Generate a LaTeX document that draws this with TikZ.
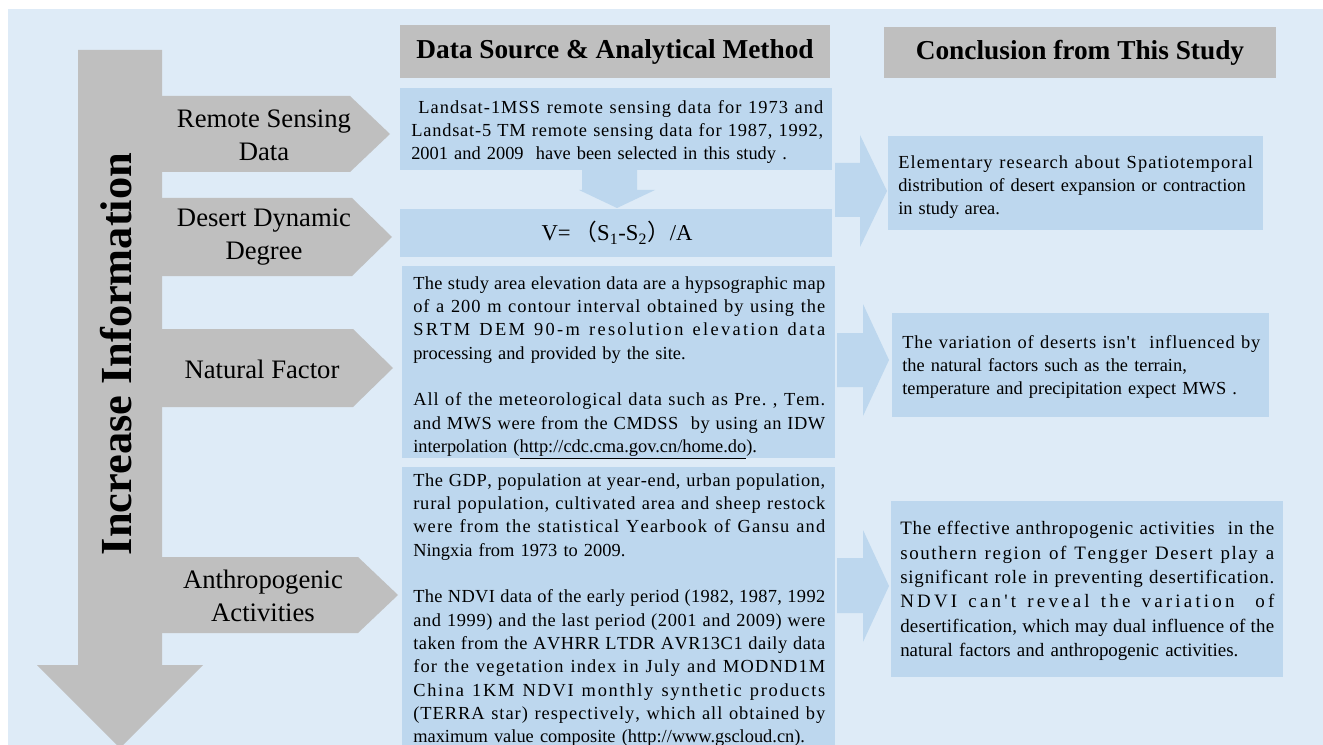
\documentclass[tikz,border=0pt]{standalone}
\usepackage{fontspec}
\setmainfont{Liberation Serif}
\newfontfamily\cjk{Noto Sans CJK SC}
\definecolor{bgblue}{HTML}{DEEBF7}
\definecolor{boxgray}{HTML}{BFBFBF}
\definecolor{boxblue}{HTML}{BDD7EE}
% one justified line of a box text, spread over every character
\ExplSyntaxOn
\cs_new_protected:Npn \ds_word:n #1 { \tl_map_inline:nn {#1} { ##1 \hskip 0pt plus 1pt } }
\NewDocumentCommand \jl { O{309pt} m }
  {
    \leavevmode
    \hbox to #1
      {
        \seq_set_split:Nnn \l_tmpa_seq { ~ } {#2}
        \seq_map_inline:Nn \l_tmpa_seq
          { \ds_word:n {##1} \hskip \fontdimen2\font plus 1pt minus \fontdimen4\font }
        \unskip \unskip
      }
    \\
  }
\ExplSyntaxOff

\begin{document}
\begin{tikzpicture}[x=0.75pt,y=0.75pt,yscale=-1,xscale=1,
	body/.style={anchor=north west,inner sep=0pt,align=left,font=\fontsize{13.8}{17.5}\selectfont},
	lbl/.style={align=center,inner sep=0pt,font=\fontsize{20}{24.5}\selectfont},
	hdr/.style={inner sep=0pt,font=\bfseries\fontsize{20.5}{24}\selectfont}]
			\useasboundingbox (0,0) rectangle (1323,745);

			%Shape: Background
			\fill [white] (0,0) rectangle (1323,745);
			\fill [bgblue] (8,9) rectangle (1323,745);

			%Shape: Down Arrow [increase]
			\fill [boxgray] (78,50) -- (162,50) -- (162,665) -- (203,665) -- (120,748) -- (37,665) -- (78,665) -- cycle ;
			%Shape: Pentagon [remote sensing]
			\fill [boxgray] (160,96) -- (350,96) -- (390,134) -- (350,172) -- (160,172) -- cycle ;
			%Shape: Pentagon [desert dynamic]
			\fill [boxgray] (160,198) -- (352,198) -- (392,237) -- (352,276) -- (160,276) -- cycle ;
			%Shape: Pentagon [natural factor]
			\fill [boxgray] (160,329) -- (353,329) -- (393,368) -- (353,407) -- (160,407) -- cycle ;
			%Shape: Pentagon [anthropogenic]
			\fill [boxgray] (160,557) -- (358,557) -- (398,595) -- (358,633) -- (160,633) -- cycle ;

			%Shape: Rectangle [headers]
			\fill [boxgray] (400,25) rectangle (830,78);
			\fill [boxgray] (884,27) rectangle (1276,78);

			%Shape: Rectangle [data boxes]
			\fill [boxblue] (400,88) rectangle (832,170);
			\fill [boxblue] (400,209) rectangle (832,257);
			\fill [boxblue] (402,266) rectangle (835,458);
			\fill [boxblue] (402,467) rectangle (835,748);
			%Shape: Down Arrow [to formula]
			\fill [boxblue] (582,170) -- (637,170) -- (637,190) -- (655,190) -- (617,208) -- (579,190) -- (582,190) -- cycle ;

			%Shape: Right Arrows [to conclusions]
			\fill [boxblue] (835,163) -- (860,163) -- (860,135) -- (887,191) -- (860,247) -- (860,217) -- (835,217) -- cycle ;
			\fill [boxblue] (837,333) -- (863,333) -- (863,304) -- (889,360) -- (863,416) -- (863,387) -- (837,387) -- cycle ;
			\fill [boxblue] (837,558) -- (863,558) -- (863,530) -- (889,586) -- (863,642) -- (863,613) -- (837,613) -- cycle ;

			%Shape: Rectangle [conclusion boxes]
			\fill [boxblue] (888,136) rectangle (1263,230);
			\fill [boxblue] (892,313) rectangle (1269,417);
			\fill [boxblue] (891,501) rectangle (1283,677);

			% Text Node
			\node (incr) [rotate=90,inner sep=0pt,font=\bfseries\fontsize{33.3}{33}\selectfont] at (116,354) {Increase Information};
			% Text Node
			\node (rsd) [lbl] at (264,135) {Remote Sensing\\Data};
			% Text Node
			\node (ddd) [lbl] at (264,237) {Desert Dynamic\\Degree};
			% Text Node
			\node (nat) [lbl] at (262,369) {Natural Factor};
			% Text Node
			\node (ant) [lbl] at (263,596) {Anthropogenic\\Activities};

			% Text Node
			\node (hsrc) [hdr] at (615,52) {Data Source \& Analytical Method};
			% Text Node
			\node (hcon) [hdr] at (1080,53) {Conclusion from This Study};

			% Text Node
			\node (landsat) [body,text width=309pt] at (411,100) {%
				\jl{~Landsat-1MSS remote sensing data for 1973 and}
				\jl{Landsat-5 TM remote sensing data for 1987, 1992,}
				2001 and 2009\ \ have been selected in this study .};
			% Text Node
			\node (formula) [inner sep=0pt,font=\fontsize{17}{20}\selectfont] at (617,233) {V=\,{\cjk （}S\textsubscript{1}-S\textsubscript{2}{\cjk ）}/A};
			% Text Node
			\node (natdat) [body,text width=309pt] at (413,276) {%
				\jl{The study area elevation data are a hypsographic map}
				\jl{of a 200 m contour interval obtained by using the}
				\jl{SRTM DEM 90-m resolution elevation data}
				processing and provided by the site.\\[17.5pt]
				\jl{All of the meteorological data such as Pre. , Tem.}
				\jl{and MWS were from the CMDSS~ by using an IDW}
				interpolation (\underline{http://cdc.cma.gov.cn/home.do}).};
			% Text Node
			\node (antdat) [body,text width=309pt] at (413,473) {%
				\jl{The GDP, population at year-end, urban population,}
				\jl{rural population, cultivated area and sheep restock}
				\jl{were from the statistical Yearbook of Gansu and}
				Ningxia from 1973 to 2009.\\[17.5pt]
				\jl{The NDVI data of the early period (1982, 1987, 1992}
				\jl{and 1999) and the last period (2001 and 2009) were}
				\jl{taken from the AVHRR LTDR AVR13C1 daily data}
				\jl{for the vegetation index in July and MODND1M}
				\jl{China 1KM NDVI monthly synthetic products}
				\jl{(TERRA star) respectively, which all obtained by}
				maximum value composite (\underline{http://www.gscloud.cn}).};

			% Text Node
			\node (con1) [body,text width=270pt] at (898,155) {%
				\jl[266pt]{Elementary research about Spatiotemporal}
				distribution of desert expansion or contraction\\
				in study area.};
			% Text Node
			\node (con2) [body,text width=269pt] at (902,335) {%
				\jl[268.5pt]{The variation of deserts isn\textquotesingle t~ influenced by}
				the natural factors such as the terrain,\\
				temperature and precipitation expect MWS .};
			% Text Node
			\node (con3) [body,text width=281pt,font=\fontsize{14.2}{18.3}\selectfont] at (900,521) {%
				\jl[280.5pt]{The effective anthropogenic activities~ in the}
				\jl[280.5pt]{southern region of Tengger Desert play a}
				\jl[280.5pt]{significant role in preventing desertification.}
				\jl[280.5pt]{NDVI can\textquotesingle t reveal the variation~ of}
				\jl[280.5pt]{desertification, which may dual influence of the}
				natural factors and anthropogenic activities.};

		\end{tikzpicture}
\end{document}
